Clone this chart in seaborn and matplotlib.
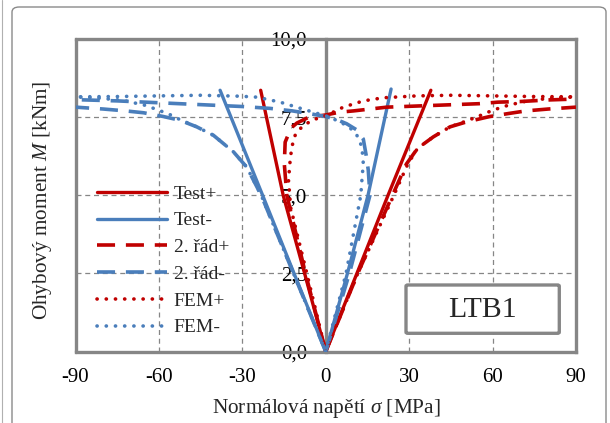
import numpy as np
import pandas as pd
import matplotlib
matplotlib.use("Agg")
import matplotlib.pyplot as plt
from matplotlib.lines import Line2D
from matplotlib.patches import FancyBboxPatch
from matplotlib.ticker import MultipleLocator, FuncFormatter
import seaborn as sns

# ---- measured data: normal stress sigma [MPa] vs bending moment M [kNm] ----
# Test+ (two gauges: left / right branch)
test_p_left_s = [0.0, -7.6, -15.3, -23.4]
test_p_left_m = [0.0, 2.5, 5.0, 8.36]
test_p_right_s = [0.0, 11.2, 22.4, 37.8]
test_p_right_m = [0.0, 2.5, 5.0, 8.36]
# Test-
test_m_left_s = [0.0, -11.4, -22.7, -38.0]
test_m_left_m = [0.0, 2.5, 5.0, 8.36]
test_m_right_s = [0.0, 7.8, 15.2, 23.5]
test_m_right_m = [0.0, 2.5, 5.0, 8.40]

# 2nd order analysis, + side
so_p_left_s = [0.0, -7.3, -14.0, -14.9, -14.6, -12.5, -10.4, -6.3, 0.0, 5.0, 10.0,
               15.0, 22.0, 40.0, 55.0, 62.0, 70.0, 80.0, 90.0]
so_p_left_m = [0.0, 2.5, 5.0, 6.0, 6.7, 7.15, 7.31, 7.49, 7.57, 7.66, 7.70,
               7.75, 7.82, 7.88, 7.93, 7.98, 8.00, 8.05, 8.08]
so_p_right_s = [0.0, 11.5, 24.0, 29.0, 33.0, 38.7, 44.7, 50.7, 59.0, 66.0, 72.0, 80.0, 90.0]
so_p_right_m = [0.0, 2.5, 5.0, 6.0, 6.5, 6.87, 7.19, 7.35, 7.52, 7.62, 7.70, 7.76, 7.82]
# 2nd order analysis, - side
so_m_left_s = [0.0, -11.6, -23.2, -28.4, -33.2, -40.4, -46.4, -52.4, -58.4, -65.5, -72.0, -80.0, -90.0]
so_m_left_m = [0.0, 2.5, 5.0, 5.9, 6.39, 6.92, 7.19, 7.40, 7.52, 7.64, 7.70, 7.76, 7.82]
so_m_right_s = [0.0, 8.5, 15.9, 15.3, 14.5, 13.5, 11.0, 7.5, 4.0, 0.0, -5.0, -12.0,
                -20.0, -30.0, -45.0, -60.0, -75.0, -90.0]
so_m_right_m = [0.0, 2.5, 5.0, 5.8, 6.3, 6.8, 7.1, 7.29, 7.42, 7.52, 7.60, 7.70,
                7.78, 7.84, 7.90, 7.96, 8.02, 8.06]

# FEM, + side
fem_p_left_s = [0.0, -6.8, -12.6, -13.4, -12.8, -12.2, -11.0, -8.6, -5.0, 0.4, 6.3,
                13.5, 20.7, 32.7, 45.0, 60.0, 75.0, 90.0]
fem_p_left_m = [0.0, 2.5, 4.6, 5.48, 6.12, 6.55, 6.92, 7.19, 7.40, 7.56, 7.82,
                8.02, 8.12, 8.18, 8.20, 8.18, 8.16, 8.15]
fem_p_right_s = [0.0, 11.5, 24.5, 29.5, 33.0, 38.7, 44.7, 50.7, 55.5, 60.0, 65.6, 73.5, 81.8, 90.0]
fem_p_right_m = [0.0, 2.5, 5.0, 6.0, 6.5, 6.87, 7.19, 7.38, 7.55, 7.72, 7.88, 8.04, 8.11, 8.15]
# FEM, - side
fem_m_left_s = [0.0, -11.6, -23.2, -28.4, -33.2, -40.4, -46.4, -52.4, -56.0, -60.0,
                -65.0, -73.0, -82.0, -90.0]
fem_m_left_m = [0.0, 2.5, 5.0, 5.9, 6.39, 6.92, 7.19, 7.42, 7.58, 7.72,
                7.88, 8.04, 8.11, 8.15]
fem_m_right_s = [0.0, 7.3, 12.6, 13.0, 13.5, 13.0, 11.2, 8.5, 6.3, 1.5, -6.8, -16.4,
                 -24.8, -30.8, -45.0, -60.0, -75.0, -90.0]
fem_m_right_m = [0.0, 2.5, 5.0, 5.48, 6.02, 6.55, 6.92, 7.18, 7.29, 7.50, 7.72, 7.98,
                 8.14, 8.17, 8.20, 8.18, 8.16, 8.15]

x_ticks = [-90, -60, -30, 0, 30, 60, 90]
y_ticks = [0.0, 2.5, 5.0, 7.5, 10.0]
series_names = ["Test+", "Test-", "2. řád+", "2. řád-", "FEM+", "FEM-"]

RED = "#C00000"
BLUE = "#4A7EBB"
GRAY = "#868686"

sns.set_style("white")
plt.rcParams["font.family"] = ["Liberation Serif", "DejaVu Serif"]
plt.rcParams["mathtext.fontset"] = "custom"
plt.rcParams["mathtext.rm"] = "Liberation Serif"
plt.rcParams["mathtext.it"] = "Liberation Serif:italic"

W, H = 610, 423
fig = plt.figure(figsize=(W / 100, H / 100), dpi=100)
fig.patch.set_facecolor("white")


def fx(px):
    return px / W


def fy(py):
    return 1 - py / H


ax_l, ax_r, ax_t, ax_b = 75.5, 576.0, 39.0, 351.6
ax = fig.add_axes([fx(ax_l), fy(ax_b), fx(ax_r) - fx(ax_l), fy(ax_t) - fy(ax_b)])

styles = {
    "solid": dict(linestyle="-", linewidth=2.4),
    "dash": dict(linestyle=(0, (5.0, 3.0)), linewidth=2.6, dash_capstyle="butt"),
    "dot": dict(linestyle=(0, (0.05, 2.5)), linewidth=2.6, dash_capstyle="round"),
}

curves = [
    ("Test+", RED, "solid", [(test_p_left_s, test_p_left_m), (test_p_right_s, test_p_right_m)]),
    ("Test-", BLUE, "solid", [(test_m_left_s, test_m_left_m), (test_m_right_s, test_m_right_m)]),
    ("2. řád+", RED, "dash", [(so_p_left_s, so_p_left_m), (so_p_right_s, so_p_right_m)]),
    ("2. řád-", BLUE, "dash", [(so_m_left_s, so_m_left_m), (so_m_right_s, so_m_right_m)]),
    ("FEM+", RED, "dot", [(fem_p_left_s, fem_p_left_m), (fem_p_right_s, fem_p_right_m)]),
    ("FEM-", BLUE, "dot", [(fem_m_left_s, fem_m_left_m), (fem_m_right_s, fem_m_right_m)]),
]

handles = []
for name, color, sty, branches in curves:
    for s_vals, m_vals in branches:
        df = pd.DataFrame({"sigma": s_vals, "M": m_vals})
        sns.lineplot(data=df, x="sigma", y="M", sort=False, estimator=None,
                     color=color, ax=ax, legend=False, zorder=3, **styles[sty])
    handles.append(Line2D([], [], color=color, **styles[sty]))

ax.set_xlim(-90, 90)
ax.set_ylim(0, 10)
ax.set_xticks(x_ticks)
ax.set_yticks(y_ticks)
ax.xaxis.set_minor_locator(MultipleLocator(7.5))
ax.yaxis.set_minor_locator(MultipleLocator(0.625))
ax.yaxis.set_major_formatter(FuncFormatter(lambda v, p: f"{v:.1f}".replace(".", ",")))
ax.xaxis.set_major_formatter(FuncFormatter(lambda v, p: f"{int(v)}"))

ax.grid(True, which="major", color=GRAY, linestyle=(0, (4, 3)), linewidth=0.9)
ax.set_axisbelow(True)

# vertical axis passes through sigma = 0
ax.spines["left"].set_position(("data", 0))
for sp in ax.spines.values():
    sp.set_color(GRAY)
    sp.set_linewidth(2.4)
ax.axvline(-90, color=GRAY, linewidth=2.4, clip_on=False, zorder=2.5)

ax.tick_params(axis="both", which="major", direction="inout", length=7, width=2,
               color=GRAY, labelsize=15, labelcolor="black")
ax.tick_params(axis="both", which="minor", direction="inout", length=5, width=2, color=GRAY)
ax.tick_params(axis="y", which="major", pad=10)
ax.tick_params(axis="x", which="major", pad=8.5)

ax.set_xlabel(r"Normálová napětí $\mathit{σ}$ [MPa]", fontsize=15.3)
ax.xaxis.set_label_coords(fx(326), fy(408), transform=fig.transFigure)
ax.xaxis.label.set_verticalalignment("center")
ax.set_ylabel(r"Ohybový moment $\mathit{M}$ [kNm]", fontsize=15.3)
ax.yaxis.set_label_coords(fx(43), fy(200), transform=fig.transFigure)
ax.yaxis.label.set_verticalalignment("center")

leg = ax.legend(handles, series_names, loc="upper left",
                bbox_to_anchor=(fx(97), fy(185)), bbox_transform=fig.transFigure,
                frameon=False, fontsize=14, handlelength=3.6, handletextpad=0.35,
                labelspacing=0.47, borderpad=0, borderaxespad=0)

# specimen label box
box = FancyBboxPatch((fx(406), fy(333.3)), fx(559.3) - fx(406), fy(285) - fy(333.3),
                     boxstyle="round,pad=0,rounding_size=0.003",
                     transform=fig.transFigure, facecolor="white", edgecolor=GRAY,
                     linewidth=2.4, zorder=5)
fig.add_artist(box)
fig.text(fx(482.7), fy(309.5), "LTB1", fontsize=21.5, ha="center", va="center", zorder=6)

# chart area frame
frame = FancyBboxPatch((fx(12), fy(440)), fx(606) - fx(12), fy(7) - fy(440),
                       boxstyle="round,pad=0,rounding_size=0.012",
                       transform=fig.transFigure, facecolor="none", edgecolor="#8a8a8a",
                       linewidth=1.0, zorder=0)
fig.add_artist(frame)
fig.add_artist(Line2D([fx(1.5), fx(1.5)], [0, 1], transform=fig.transFigure,
                      color="#b0b0b0", linewidth=0.8))

fig.savefig("out.png", dpi=100)
